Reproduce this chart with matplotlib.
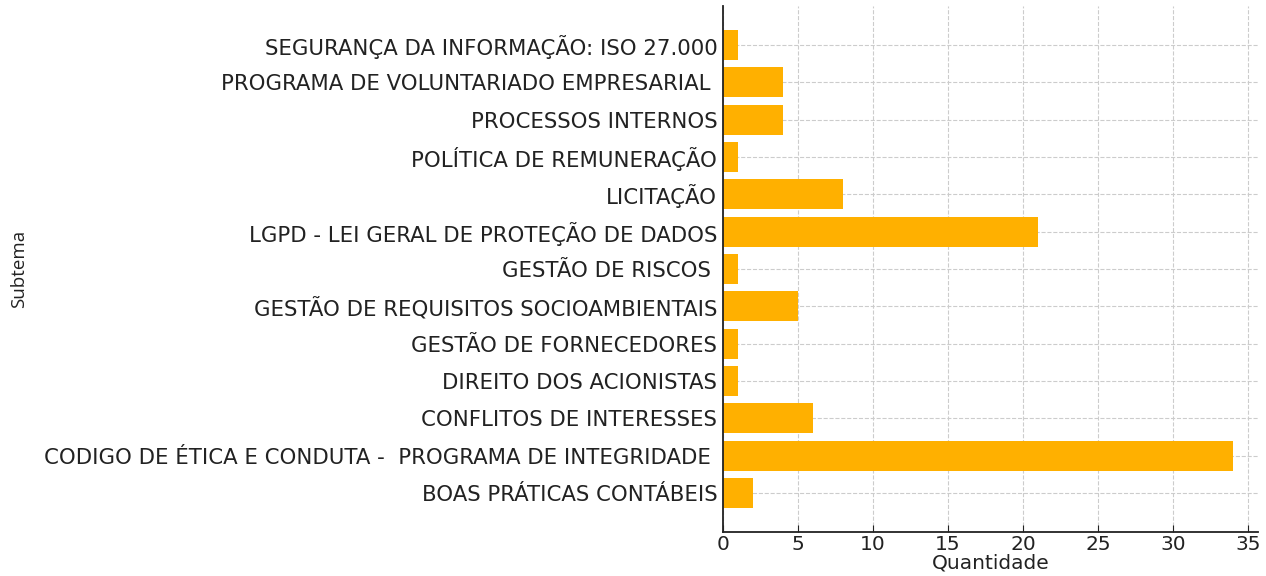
import matplotlib
matplotlib.use("Agg")
import matplotlib.pyplot as plt

# dados (de baixo para cima)
subtemas = [
    "BOAS PRÁTICAS CONTÁBEIS",
    "CODIGO DE ÉTICA E CONDUTA -  PROGRAMA DE INTEGRIDADE ",
    "CONFLITOS DE INTERESSES",
    "DIREITO DOS ACIONISTAS",
    "GESTÃO DE FORNECEDORES",
    "GESTÃO DE REQUISITOS SOCIOAMBIENTAIS",
    "GESTÃO DE RISCOS ",
    "LGPD - LEI GERAL DE PROTEÇÃO DE DADOS",
    "LICITAÇÃO",
    "POLÍTICA DE REMUNERAÇÃO",
    "PROCESSOS INTERNOS",
    "PROGRAMA DE VOLUNTARIADO EMPRESARIAL ",
    "SEGURANÇA DA INFORMAÇÃO: ISO 27.000",
]
quantidade = [2, 34, 6, 1, 1, 5, 1, 21, 8, 1, 4, 4, 1]

fig = plt.figure(figsize=(12.66, 5.76), dpi=100)
ax = fig.add_axes([0.571, 0.0764, 0.423, 0.9132])

ax.barh(subtemas, quantidade, color="#FFB000", height=0.8, zorder=2)
ax.grid(True, linestyle="--", color="#cccccc", linewidth=0.8, zorder=0)
ax.set_axisbelow(True)

for s in ["top", "right"]:
    ax.spines[s].set_visible(False)
for s in ["left", "bottom"]:
    ax.spines[s].set_color("#222222")
    ax.spines[s].set_linewidth(1.3)

ax.tick_params(axis="both", direction="in", colors="#222222", length=5)
ax.tick_params(axis="y", labelsize=15.3, pad=4)
ax.tick_params(axis="x", labelsize=14.5, pad=2)
ax.set_xticks(range(0, 36, 5))
ax.set_xlim(0, 35.7)

ax.set_xlabel("Quantidade", fontsize=14.5, color="#222222", labelpad=0)
ax.set_ylabel("Subtema", fontsize=13.5, color="#222222", family="Open Sans")
ax.yaxis.set_label_coords(-1.298, 0.5)

fig.savefig("out.png", dpi=100)
